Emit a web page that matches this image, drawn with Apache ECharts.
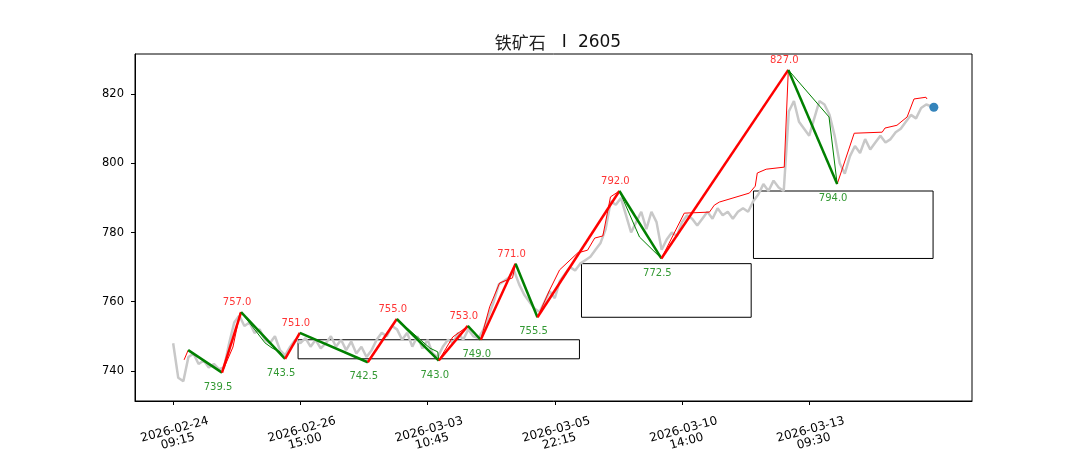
<!DOCTYPE html>
<html>
<head>
<meta charset="utf-8">
<script src="https://cdn.jsdelivr.net/npm/echarts@6/dist/echarts.min.js"></script>
<style>html,body{margin:0;padding:0;background:#fff;}#c{width:1080px;height:450px;}</style>
</head>
<body>
<div id="c"></div>
<script>
// ---- data ----
const titleParts = ['铁矿石', 'I', '2605'];
const tickIdx = [0, 50, 100, 150, 200, 250];
const tickLabels = ['2026-02-24\n09:15', '2026-02-26\n15:00', '2026-03-03\n10:45', '2026-03-05\n22:15', '2026-03-10\n14:00', '2026-03-13\n09:30'];
const yTicks = [740, 760, 780, 800, 820];
const grayStep = 2;
const grayValues = [
  748, 738, 737, 744, 745, 742, 743, 741, 742, 740.5,
  741, 748, 754, 756, 753, 754, 751, 752, 749, 748,
  750, 746, 744.5, 747, 749, 748, 749.5, 747, 749, 746.5,
  748, 750, 747, 749, 746, 748.5, 745, 747, 744, 746,
  749, 751, 750, 753, 752, 749, 751, 747, 750, 746.5,
  749, 745, 744, 747, 749, 748, 751, 749, 752, 750,
  749.5, 752, 756, 760, 765, 766, 767, 769, 765, 762,
  760, 758, 757, 760, 763, 761, 766, 768, 770, 769,
  771, 772, 773, 775, 777, 781, 789, 788, 790, 785,
  780, 783, 786, 781, 786, 783, 775, 778, 780, 779,
  783, 785, 784, 782, 784, 786, 784, 787, 785, 786,
  784, 786, 787, 786, 789, 791, 794, 792, 795, 793,
  792, 815, 818, 812, 810, 808, 813, 818, 817, 814,
  808, 800, 797, 802, 805, 803, 807, 804, 806, 808,
  806, 807, 809, 810, 812, 814, 813, 816, 817, 816.5
];
const pivotIdx = [5.9, 19.2, 26.7, 44.0, 49.8, 76.5, 87.9, 104.4, 115.8, 120.9, 134.6, 143.2, 175.4, 191.9, 241.8, 261.0];
const pivotPrice = [746.0, 739.5, 757.0, 743.5, 751.0, 742.5, 755.0, 743.0, 753.0, 749.0, 771.0, 755.5, 792.0, 772.5, 827.0, 794.0];
const thinUpLegs = [
  [[4.3, 743.2], [5.9, 746.0]],
  [[19.2, 739.5], [23.5, 746.9], [26.3, 756.8], [26.7, 757.0]],
  [[44.0, 743.5], [49.8, 751.0]],
  [[76.5, 742.5], [87.9, 755.0]],
  [[104.4, 743.0], [109.9, 749.8], [115.4, 752.7], [115.8, 753.0]],
  [[120.9, 749.0], [124.4, 758.5], [128.3, 765.4], [133.4, 766.9], [134.6, 771.0]],
  [[143.2, 755.5], [148.0, 763.4], [151.9, 769.2], [159.0, 774.1], [162.9, 774.9], [165.7, 778.4], [168.9, 779.0], [171.9, 790.3], [175.4, 792.0]],
  [[191.9, 772.5], [200.9, 785.6], [210.8, 785.9], [212.7, 787.9], [214.7, 788.8], [226.5, 791.4], [228.8, 793.4], [229.6, 797.2], [233.1, 798.3], [240.2, 798.9], [241.8, 827.0]],
  [[261.0, 794.0], [267.7, 808.7], [278.7, 809.0], [279.8, 810.2], [284.5, 811.0], [288.5, 813.4], [291.2, 818.6], [295.9, 819.1], [296.3, 818.6]]
];
const thinDownLegs = [
  [[5.9, 746.0], [19.2, 739.5]],
  [[26.7, 757.0], [32.2, 751.8], [36.1, 748.1], [38.9, 746.6], [42.0, 745.5], [43.6, 743.8], [44.0, 743.5]],
  [[49.8, 751.0], [76.5, 742.5]],
  [[87.9, 755.0], [100.9, 746.6], [104.0, 745.5], [104.4, 743.0]],
  [[115.8, 753.0], [120.9, 749.0]],
  [[134.6, 771.0], [143.2, 755.5]],
  [[175.4, 792.0], [183.3, 778.7], [191.9, 772.5]],
  [[241.8, 827.0], [257.8, 813.4], [261.0, 794.0]]
];
const boxes = [
  [49.1, 159.7, 743.5, 749.0],
  [160.5, 227.2, 755.5, 771.0],
  [228.1, 298.7, 772.5, 792.0]
];
const lastPoint = [299, 816.2];

// ---- build ----
const series = [];
series.push({
  type: 'line', data: grayValues.map((v, i) => [i * grayStep, v]),
  showSymbol: false, lineStyle: { color: '#c8c8c8', width: 2.5 }, z: 1, silent: true
});
series.push({
  type: 'line', data: [], z: 2,
  markArea: {
    silent: true,
    itemStyle: { color: 'rgba(0,0,0,0)', borderColor: '#000', borderWidth: 1 },
    data: boxes.map(b => [{ coord: [b[0], b[2]] }, { coord: [b[1], b[3]] }])
  }
});
thinUpLegs.forEach(l => series.push({ type: 'line', data: l, showSymbol: false, z: 3, lineStyle: { color: '#ff0000', width: 1 } }));
thinDownLegs.forEach(l => series.push({ type: 'line', data: l, showSymbol: false, z: 3, lineStyle: { color: '#008000', width: 1 } }));
for (let i = 0; i < pivotIdx.length - 1; i++) {
  const up = pivotPrice[i + 1] > pivotPrice[i];
  series.push({
    type: 'line', data: [[pivotIdx[i], pivotPrice[i]], [pivotIdx[i + 1], pivotPrice[i + 1]]],
    showSymbol: false, z: 4, lineStyle: { color: up ? '#ff0000' : '#008000', width: 2.5 }
  });
}
const peaks = [], troughs = [];
for (let i = 1; i < pivotIdx.length; i++) {
  const p = [pivotIdx[i], pivotPrice[i]];
  if (pivotPrice[i] > pivotPrice[i - 1]) peaks.push(p); else troughs.push(p);
}
const lblFont = { fontFamily: 'DejaVu Sans', fontSize: 10 };
series.push({
  type: 'scatter', data: peaks, symbolSize: 1, itemStyle: { color: 'rgba(0,0,0,0)' }, z: 5,
  label: Object.assign({ show: true, position: 'top', distance: 4, offset: [-4, 0], color: '#ff0000', formatter: p => p.value[1].toFixed(1) }, lblFont)
});
series.push({
  type: 'scatter', data: troughs, symbolSize: 1, itemStyle: { color: 'rgba(0,0,0,0)' }, z: 5,
  label: Object.assign({ show: true, position: 'bottom', distance: 9, offset: [-4, 0], color: '#008000', formatter: p => p.value[1].toFixed(1) }, lblFont)
});
series.push({
  type: 'scatter', data: [lastPoint], symbolSize: 9, z: 6,
  itemStyle: { color: '#1f77b4', opacity: 0.9 }
});

const chart = echarts.init(document.getElementById('c'), null, { renderer: 'canvas' });
chart.setOption({
  animation: false,
  backgroundColor: '#fff',
  title: {
    text: '{cn|' + titleParts[0] + '} {l|' + titleParts[1] + '} {n|' + titleParts[2] + '}',
    left: 553, top: 29, textAlign: 'center',
    textStyle: {
      fontFamily: 'Noto Sans CJK SC', fontSize: 18, fontWeight: 'normal', color: '#111',
      rich: {
        cn: { fontFamily: 'Noto Sans CJK SC', fontSize: 17, color: '#222' },
        l: { fontFamily: 'DejaVu Sans', fontSize: 17, color: '#111', padding: [0, 7, 0, 12] },
        n: { fontFamily: 'DejaVu Sans', fontSize: 17, color: '#111' }
      }
    }
  },
  grid: { left: 135, right: 108, top: 54, bottom: 49, outerBoundsMode: 'none', containLabel: false, show: true, borderColor: '#000', borderWidth: 1, backgroundColor: 'rgba(0,0,0,0)' },
  xAxis: {
    type: 'value', min: -15, max: 314,
    splitLine: { show: false },
    axisLine: { show: true, onZero: false, lineStyle: { color: '#000', width: 1 } },
    axisTick: { show: true, length: 4, lineStyle: { color: '#000' }, customValues: tickIdx },
    axisLabel: {
      customValues: tickIdx, rotate: 15, align: 'center', verticalAlign: 'top', margin: 23,
      fontFamily: 'DejaVu Sans', fontSize: 12, color: '#000', lineHeight: 12,
      formatter: v => tickLabels[tickIdx.indexOf(v)] || ''
    }
  },
  yAxis: {
    type: 'value', min: 731.3, max: 831.6,
    splitLine: { show: false },
    axisLine: { show: true, onZero: false, lineStyle: { color: '#000', width: 1 } },
    axisTick: { show: true, length: 4, lineStyle: { color: '#000' }, customValues: yTicks },
    axisLabel: { customValues: yTicks, fontFamily: 'DejaVu Sans', fontSize: 11.5, color: '#000', margin: 11 }
  },
  series: series
});
</script>
</body>
</html>
